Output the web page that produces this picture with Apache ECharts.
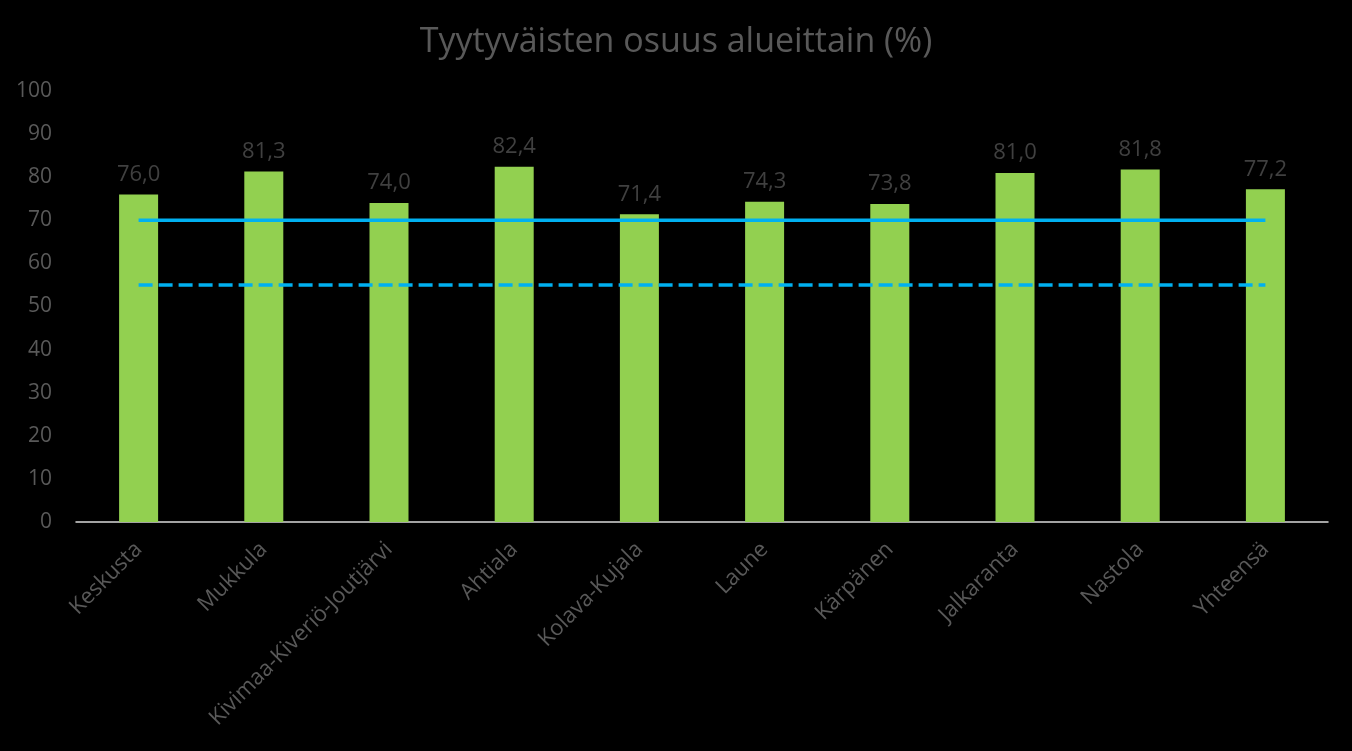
<!DOCTYPE html>
<html><head><meta charset="utf-8">
<script src="https://cdn.jsdelivr.net/npm/echarts@6/dist/echarts.min.js"></script>
<style>html,body{margin:0;padding:0;background:#000;}#c{width:1352px;height:751px;}</style>
</head><body><div id="c"></div>
<script>
const categories = ["Keskusta","Mukkula","Kivimaa-Kiveriö-Joutjärvi","Ahtiala","Kolava-Kujala","Laune","Kärpänen","Jalkaranta","Nastola","Yhteensä"];
const values = [76.0,81.3,74.0,82.4,71.4,74.3,73.8,81.0,81.8,77.2];
const targetSolid = [70,70,70,70,70,70,70,70,70,70];
const targetDashed = [55,55,55,55,55,55,55,55,55,55];
const titleText = "Tyytyväisten osuus alueittain (%)";
const font = "'Open Sans', sans-serif";
const chart = echarts.init(document.getElementById('c'));
chart.setOption({
  backgroundColor:'#000',
  animation:false,
  title:{text:titleText,left:'center',top:20,textStyle:{color:'#595959',fontSize:34,fontWeight:'normal',fontFamily:font}},
  grid:{left:76,right:24,top:91,bottom:229,containLabel:false},
  xAxis:{type:'category',data:categories,
    axisLine:{lineStyle:{color:'#d9d9d9',width:1.5}},axisTick:{show:false},
    axisLabel:{rotate:45,color:'#595959',fontSize:22,fontFamily:font,interval:0,margin:24}},
  yAxis:{type:'value',min:0,max:100,interval:10,
    axisLine:{show:false},axisTick:{show:false},splitLine:{show:false},
    axisLabel:{color:'#595959',fontSize:21,fontFamily:font,margin:24}},
  series:[
    {type:'bar',data:values,barWidth:39,itemStyle:{color:'#92D050'},
     label:{show:true,position:'top',distance:9,color:'#404040',fontSize:22,fontFamily:font,
       formatter:p=>p.value.toFixed(1).replace('.',',')}},
    {type:'line',data:targetSolid,symbol:'none',lineStyle:{color:'#00B0F0',width:3.5,type:'solid'},z:3},
    {type:'line',data:targetDashed,symbol:'none',lineStyle:{color:'#00B0F0',width:3.5,type:[14,6]},z:3}
  ]
});
</script></body></html>
